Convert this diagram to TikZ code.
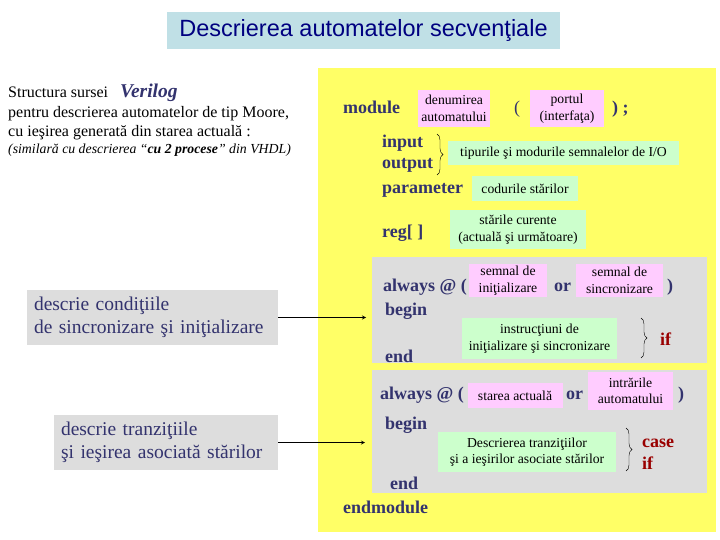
\documentclass[tikz,border=0pt]{standalone}
\usepackage{fontspec}
\setmainfont{Liberation Serif}
\setsansfont{Liberation Sans}
\usepackage{tikz}
\usepackage{xcolor}
\usetikzlibrary{decorations.pathreplacing}

\definecolor{navytext}{RGB}{51,51,110}
\definecolor{titlufill}{RGB}{192,224,230}
\definecolor{galben}{RGB}{255,255,102}
\definecolor{gri}{RGB}{221,221,221}
\definecolor{roz}{RGB}{255,204,255}
\definecolor{verde}{RGB}{204,255,204}
\definecolor{rosu}{RGB}{153,0,0}

\tikzset{
  kw/.style={anchor=base west, inner sep=0pt, text=navytext, font=\fontsize{18}{20}\selectfont\bfseries},
  kwred/.style={anchor=base west, inner sep=0pt, text=rosu, font=\fontsize{18}{20}\selectfont\bfseries},
  pinkbox/.style={fill=roz, inner sep=0pt, align=center, font=\fontsize{13.7}{16.5}\selectfont},
  greenbox/.style={fill=verde, inner sep=0pt, align=center, font=\fontsize{13.7}{16.5}\selectfont},
  notebox/.style={fill=gri, inner xsep=7pt, inner ysep=0pt, align=left, text=navytext, font=\fontsize{19.5}{23}\selectfont},
  acolada/.style={decorate, decoration={brace, amplitude=6pt}}
}

\begin{document}
\begin{tikzpicture}[x=1pt, y=-1pt]
\useasboundingbox (0,0) rectangle (720,540);

% titlu
\node[fill=titlufill, minimum width=393pt, minimum height=37pt, text=blue!50!black, font=\sffamily\fontsize{23.5}{26}\selectfont] (titlu) at (363.5,30.5) {Descrierea automatelor secvenţiale};

% text explicativ
\node[anchor=base west, inner sep=0pt, font=\fontsize{16}{18}\selectfont] (struct) at (8,98) {Structura sursei\hspace{8pt} \textcolor{navytext}{\fontsize{19.5}{20}\selectfont\bfseries\itshape Verilog}};
\node[anchor=base west, inner sep=0pt, font=\fontsize{16}{18}\selectfont] (moore) at (8,118) {pentru descrierea automatelor de tip Moore,};
\node[anchor=base west, inner sep=0pt, font=\fontsize{16}{18}\selectfont] (iesire) at (8,137) {cu ieşirea generată din starea actuală :};
\node[anchor=base west, inner sep=0pt, font=\fontsize{13.8}{16}\selectfont\itshape] (vhdl) at (8,154) {(similară cu descrierea “\textbf{cu 2 procese}” din VHDL)};

% blocul principal
\fill[galben] (318,68) rectangle (716,532);
\fill[gri] (372,257) rectangle (707,363);
\fill[gri] (372,370) rectangle (707,493);
\coordinate (blocA) at (372,257);
\coordinate (blocB) at (372,370);

\node[kw] (module) at (343,114) {module};
\node[pinkbox, minimum width=72pt, minimum height=37pt] (denum) at (454,108.5) {denumirea\\automatului};
\node[kw, font=\fontsize{18}{20}\selectfont] (par1) at (514,114) {(};
\node[pinkbox, minimum width=74pt, minimum height=37pt] (portul) at (567,108.5) {portul\\(interfaţa)};
\node[kw] (par2) at (612,114) {) ;};

\node[kw] (input) at (382,148) {input};
\node[kw] (output) at (382,169) {output};
\draw[acolada] (437,134) -- (437,175);
\node[greenbox, minimum width=231pt, minimum height=24pt] (tipuri) at (563.5,153) {tipurile şi modurile semnalelor de I/O};

\node[kw] (param) at (382,194) {parameter};
\node[greenbox, minimum width=106pt, minimum height=25pt] (coduri) at (525,188.5) {codurile stărilor};

\node[kw] (reg) at (382,237) {reg[ ]};
\node[greenbox, minimum width=136pt, minimum height=39pt] (curente) at (518,229.5) {stările curente\\(actuală şi următoare)};

% primul always
\node[kw] (always1) at (383,291) {always @ (};
\node[pinkbox, minimum width=78pt, minimum height=33pt] (init) at (508,280.5) {semnal de\\iniţializare};
\node[kw] (or1) at (554,291) {or};
\node[pinkbox, minimum width=87pt, minimum height=33pt] (sinc) at (619.5,280.5) {semnal de\\sincronizare};
\node[kw] (par3) at (667,291) {)};
\node[kw] (begin1) at (385,315) {begin};
\node[greenbox, minimum width=155pt, minimum height=41pt] (instr) at (539.5,338.5) {instrucţiuni de\\iniţializare şi sincronizare};
\draw[acolada] (641,318) -- (641,358);
\node[kwred] (if1) at (660,345) {if};
\node[kw] (end1) at (385,362) {end};

% al doilea always
\node[kw] (always2) at (380,399) {always @ (};
\node[pinkbox, minimum width=95pt, minimum height=25pt] (stact) at (515,395.5) {starea actuală};
\node[kw] (or2) at (566,399) {or};
\node[pinkbox, minimum width=85pt, minimum height=38pt] (intrari) at (630.5,391) {intrările\\automatului};
\node[kw] (par4) at (678,399) {)};
\node[kw] (begin2) at (385,429) {begin};
\node[greenbox, minimum width=178pt, minimum height=40pt] (descr) at (527,452) {Descrierea tranziţiilor\\şi a ieşirilor asociate stărilor};
\draw[acolada] (626,428) -- (626,471);
\node[kwred] (case) at (642,447) {case};
\node[kwred] (if2) at (642,469) {if};
\node[kw] (end2) at (390,489) {end};

\node[kw] (endmod) at (343,513) {endmodule};

% casetele din stanga
\node[notebox, text width=237pt, minimum height=55pt] (condsinc) at (152.5,317.5) {descrie condiţiile\\de sincronizare şi iniţializare};
\node[notebox, text width=210pt, minimum height=55pt] (tranz) at (166,442.5) {descrie tranziţiile\\şi ieşirea asociată stărilor};

\draw[->, thick, >=stealth, shorten >=6pt] (condsinc.east) -- (condsinc.east -| blocA);
\draw[->, thick, >=stealth, shorten >=7pt] (tranz.east) -- (tranz.east -| blocB);
\end{tikzpicture}
\end{document}
